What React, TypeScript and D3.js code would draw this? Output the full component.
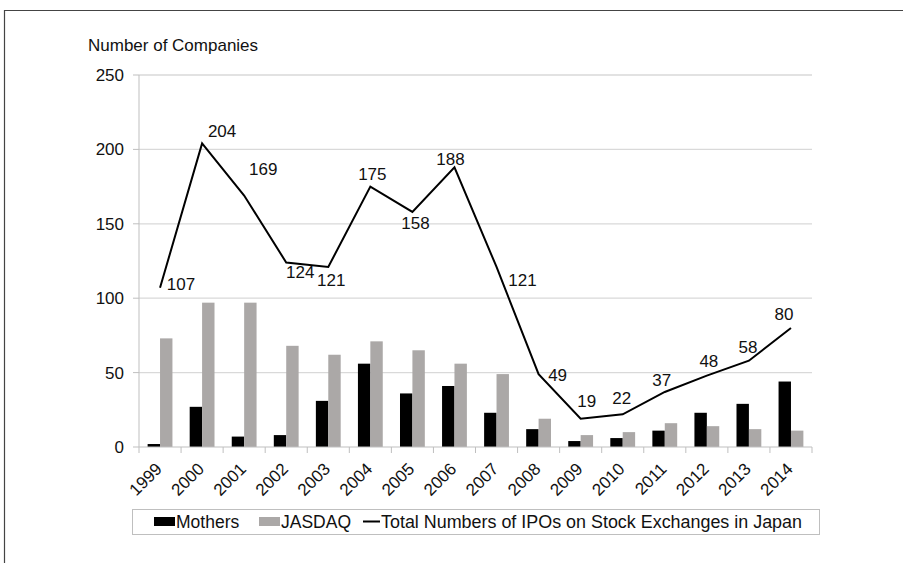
import { useEffect, useRef } from 'react'
import * as d3 from 'd3'

const years = ['1999', '2000', '2001', '2002', '2003', '2004', '2005', '2006', '2007', '2008', '2009', '2010', '2011', '2012', '2013', '2014']
const mothers = [2, 27, 7, 8, 31, 56, 36, 41, 23, 12, 4, 6, 11, 23, 29, 44]
const jasdaq = [73, 97, 97, 68, 62, 71, 65, 56, 49, 19, 8, 10, 16, 14, 12, 11]
const totals = [107, 204, 169, 124, 121, 175, 158, 188, 121, 49, 19, 22, 37, 48, 58, 80]
const yTicks = [0, 50, 100, 150, 200, 250]

// where each total's label sits relative to its point (centre dx, baseline dy)
const labelNudge = [
  [21, 2], [20, -6], [19, -21], [14, 16], [3, 19], [2, -7], [3, 17], [-4, -2],
  [26, 19], [19, 7], [6, -12], [-1, -10], [-3, -6], [2, -9], [-1, -8], [-7, -8],
]

const FONT = '"Liberation Sans", Arial, sans-serif'
const GREY = '#aba8a7'

export default function App() {
  const ref = useRef<SVGSVGElement>(null)

  useEffect(() => {
    const svg = d3.select(ref.current)
    svg.selectAll('*').remove()

    const left = 139
    const right = 812
    const top = 75
    const bottom = 447

    const x = d3.scaleBand().domain(years).range([left, right])
    const y = d3.scaleLinear().domain([0, 250]).range([bottom, top])
    const bw = x.bandwidth() * 0.295

    // outer frame
    svg.append('path').attr('d', 'M4.5,563 V10.5 H903').attr('fill', 'none').attr('stroke', '#444').attr('stroke-width', 1.2)

    svg.append('text').attr('x', 88).attr('y', 51).text('Number of Companies')
      .attr('font-family', FONT).attr('font-size', 17).attr('fill', '#111')

    // grid + y ticks
    const g = svg.append('g')
    g.selectAll('line.grid').data(yTicks.filter((d) => d > 0)).enter().append('line')
      .attr('x1', left).attr('x2', right).attr('y1', (d) => y(d)).attr('y2', (d) => y(d))
      .attr('stroke', '#d9d9d9').attr('stroke-width', 1.3)
    g.selectAll('line.yt').data(yTicks).enter().append('line')
      .attr('x1', left - 6).attr('x2', left).attr('y1', (d) => y(d)).attr('y2', (d) => y(d))
      .attr('stroke', '#bfbfbf')
    g.selectAll('text.yl').data(yTicks).enter().append('text')
      .attr('x', left - 15).attr('y', (d) => y(d)).attr('dy', '0.35em')
      .attr('text-anchor', 'end').attr('font-family', FONT).attr('font-size', 17).attr('fill', '#111')
      .text((d) => d)
    g.append('line').attr('x1', left).attr('x2', left).attr('y1', top).attr('y2', bottom).attr('stroke', '#bfbfbf')

    // bars
    svg.selectAll('rect.m').data(mothers).enter().append('rect')
      .attr('x', (d, i) => x(years[i])! + x.bandwidth() / 2 - bw)
      .attr('y', (d) => y(d)).attr('width', bw).attr('height', (d) => bottom - y(d)).attr('fill', '#000')
    svg.selectAll('rect.j').data(jasdaq).enter().append('rect')
      .attr('x', (d, i) => x(years[i])! + x.bandwidth() / 2)
      .attr('y', (d) => y(d)).attr('width', bw).attr('height', (d) => bottom - y(d)).attr('fill', GREY)

    // x axis
    svg.append('line').attr('x1', left).attr('x2', right).attr('y1', bottom).attr('y2', bottom).attr('stroke', '#bfbfbf')
    const edges = years.map((d) => x(d)!).concat([right])
    svg.selectAll('line.xt').data(edges).enter().append('line')
      .attr('x1', (d) => d).attr('x2', (d) => d).attr('y1', bottom).attr('y2', bottom + 6).attr('stroke', '#bfbfbf')
    svg.selectAll('text.xl').data(years).enter().append('text')
      .attr('transform', (d) => `translate(${x(d)! + x.bandwidth() / 2 + 3},${bottom + 23}) rotate(-45)`)
      .attr('text-anchor', 'end').attr('font-family', FONT).attr('font-size', 17).attr('fill', '#111')
      .text((d) => d)

    // total line
    const line = d3.line<number>()
      .x((d, i) => x(years[i])! + x.bandwidth() / 2)
      .y((d) => y(d))
    svg.append('path').datum(totals).attr('d', line).attr('fill', 'none').attr('stroke', '#000').attr('stroke-width', 2)

    svg.selectAll('text.tl').data(totals).enter().append('text')
      .attr('x', (d, i) => x(years[i])! + x.bandwidth() / 2 + labelNudge[i][0])
      .attr('y', (d, i) => y(d) + labelNudge[i][1])
      .attr('text-anchor', 'middle').attr('font-family', FONT).attr('font-size', 17).attr('fill', '#111')
      .text((d) => d)

    // legend
    const lg = svg.append('g')
    lg.append('rect').attr('x', 132.5).attr('y', 509.5).attr('width', 687).attr('height', 25)
      .attr('fill', '#fff').attr('stroke', '#bfbfbf')
    lg.append('rect').attr('x', 154).attr('y', 517).attr('width', 21).attr('height', 9).attr('fill', '#000')
    lg.append('text').attr('x', 176).attr('y', 528).text('Mothers')
    lg.append('rect').attr('x', 259).attr('y', 517).attr('width', 21).attr('height', 9).attr('fill', GREY)
    lg.append('text').attr('x', 281).attr('y', 528).text('JASDAQ')
    lg.append('line').attr('x1', 363).attr('x2', 380).attr('y1', 521.5).attr('y2', 521.5).attr('stroke', '#000').attr('stroke-width', 2)
    lg.append('text').attr('x', 381).attr('y', 528).text('Total Numbers of IPOs on Stock Exchanges in Japan')
      .attr('textLength', 421).attr('lengthAdjust', 'spacingAndGlyphs')
    lg.selectAll('text').attr('font-family', FONT).attr('font-size', 17.5).attr('fill', '#111')
  }, [])

  return (
    <svg ref={ref} width={903} height={563} style={{ position: 'absolute', left: 0, top: 0, background: '#fff' }} />
  )
}
